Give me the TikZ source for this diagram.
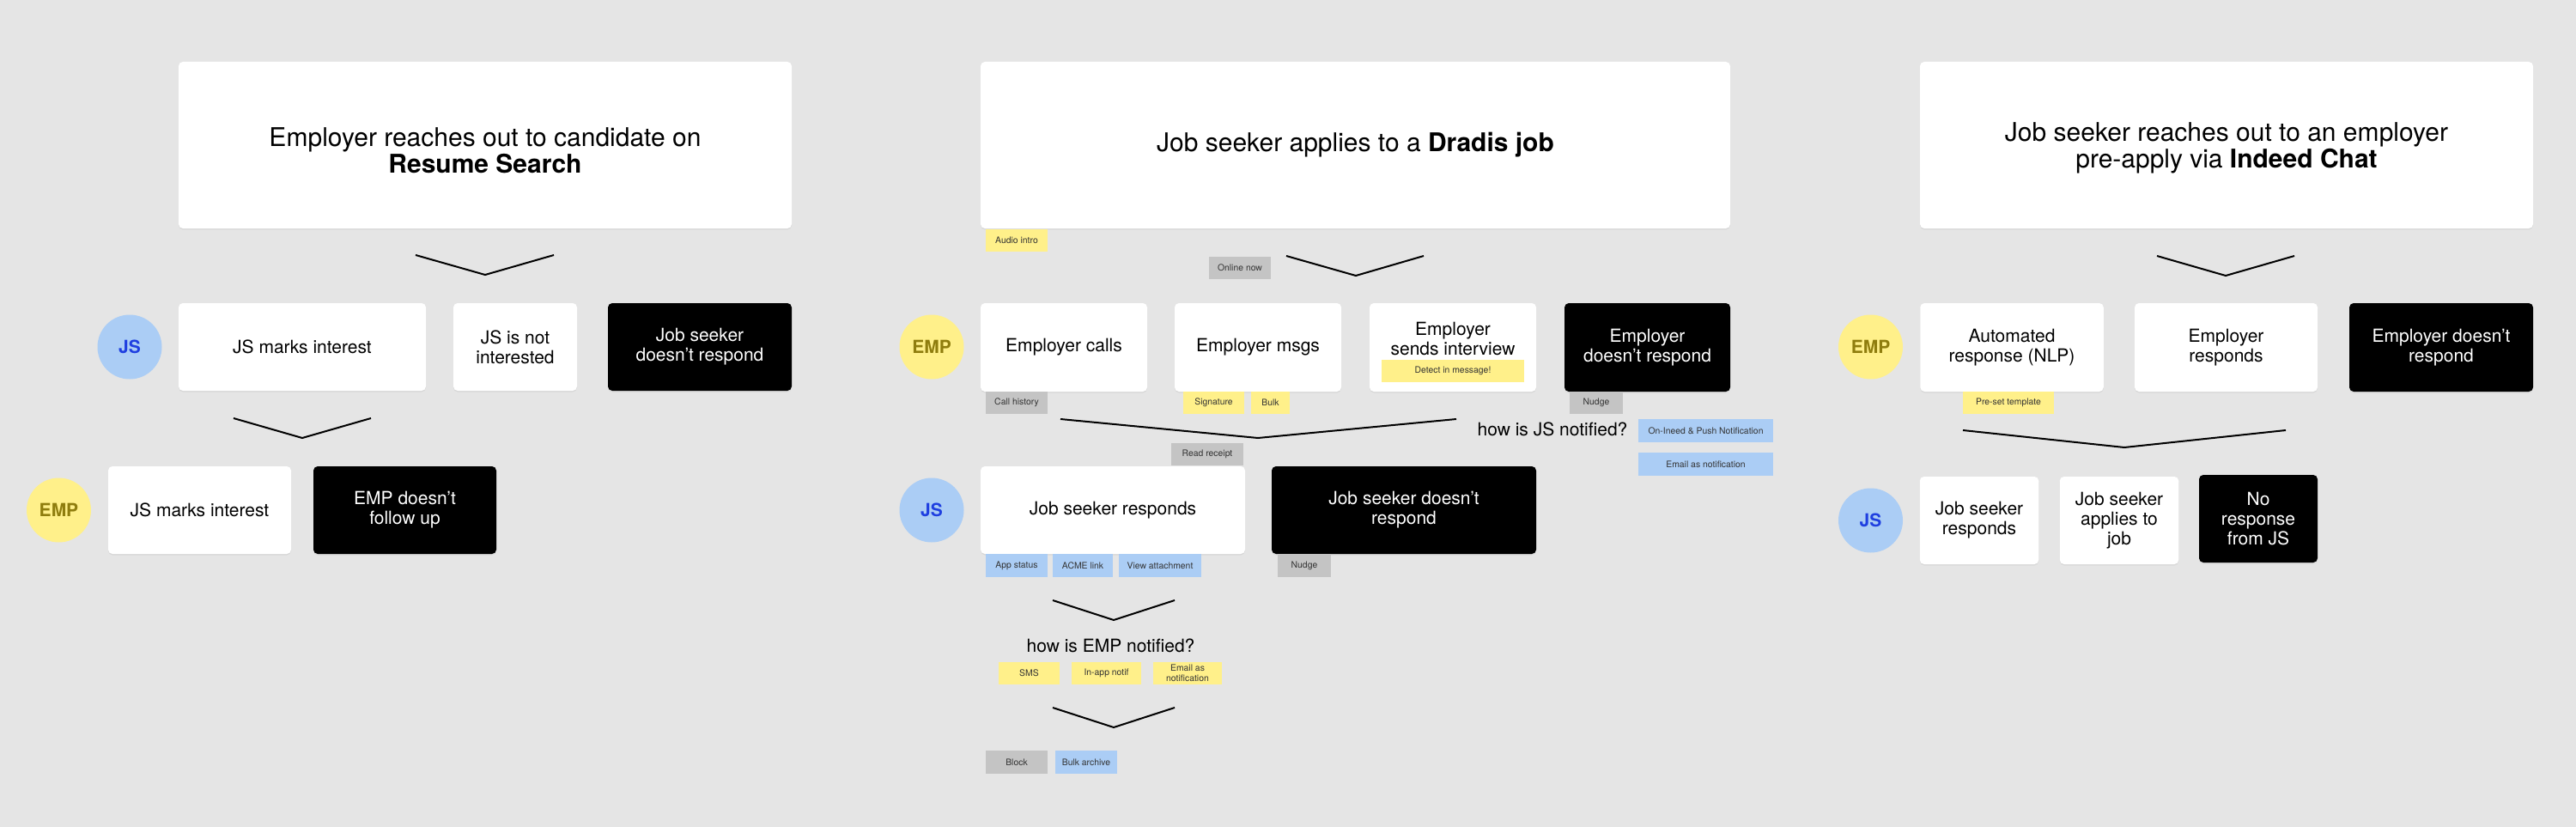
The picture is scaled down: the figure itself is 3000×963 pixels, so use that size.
\documentclass[tikz,border=0pt]{standalone}
\usepackage{fontspec}
\setmainfont{TeX Gyre Heros}
\usetikzlibrary{shadows}
\definecolor{bg}{HTML}{E5E5E5}
\definecolor{tagyellow}{HTML}{FFF08A}
\definecolor{tagblue}{HTML}{ABCDF5}
\definecolor{taggray}{HTML}{C4C4C4}
\definecolor{jsblue}{HTML}{1F3FE0}
\definecolor{empolive}{HTML}{8F7D0E}
\definecolor{tagtext}{HTML}{333333}
\newcommand{\bigtxt}{\fontsize{30}{31}\selectfont}
\newcommand{\boxtxt}{\fontsize{21}{23}\selectfont}
\newcommand{\tagtxt}{\fontsize{10.4}{11.7}\selectfont}

\begin{document}
\begin{tikzpicture}[x=1pt,y=-1pt,
        card/.style={fill=white,rounded corners=5pt,minimum height=102pt,
            inner sep=0pt,align=center,font=\boxtxt,
            drop shadow={shadow xshift=0pt,shadow yshift=-1.5pt,opacity=0.12}},
        blackcard/.style={card,fill=black,text=white},
        title/.style={card,minimum height=194pt,font=\bigtxt},
        who/.style={circle,minimum size=75pt,inner sep=0pt,font=\boxtxt\bfseries},
        tag/.style={minimum height=26.5pt,inner sep=0pt,align=center,
            font=\tagtxt,text=tagtext},
        ytag/.style={tag,fill=tagyellow},
        btag/.style={tag,fill=tagblue},
        gtag/.style={tag,fill=taggray},
        chev/.style={line width=2pt},
        question/.style={font=\boxtxt}]
\fill[bg] (0,0) rectangle (3000,963);

% Resume Search
\node[title,minimum width=714pt,text height=65pt] (title1) at (565,169)
    {Employer reaches out to candidate on\\\textbf{Resume Search}};
\draw[chev] (484,297) -- (565,320) -- (645,297);
\node[who,fill=tagblue,text=jsblue] (js1) at (151,404) {JS};
\node[card,minimum width=288pt] (jsint) at (352,404) {JS marks interest};
\node[card,minimum width=144pt] (jsnot) at (600,404) {JS is not\\interested};
\node[blackcard,minimum width=214pt] (jsnone) at (815,404) {Job seeker\\doesn’t respond};
\draw[chev] (272,487) -- (352,510) -- (432,487);
\node[who,fill=tagyellow,text=empolive] (emp1) at (68.5,594) {EMP};
\node[card,minimum width=213pt] (empint) at (232.5,594) {JS marks interest};
\node[blackcard,minimum width=213pt] (empnone) at (471.5,594) {EMP doesn’t\\follow up};

% Dradis job
\node[title,minimum width=873pt] (title2) at (1578.5,169)
    {Job seeker applies to a \textbf{Dradis job}};
\node[ytag,minimum width=72pt] (audio) at (1184,280) {Audio intro};
\node[gtag,minimum width=72pt] (online) at (1444,312) {Online now};
\draw[chev] (1498,298) -- (1579,321) -- (1658,298);
\node[who,fill=tagyellow,text=empolive] (emp2) at (1085,404) {EMP};
\node[card,minimum width=194pt,minimum height=103pt] (calls) at (1239,404.5) {Employer calls};
\node[card,minimum width=194pt,minimum height=103pt] (msgs) at (1465,404.5) {Employer msgs};
\node[card,minimum width=194pt,minimum height=103pt] (invite) at (1692,404.5) {};
\node[font=\boxtxt,align=center] (invitetxt) at (1692,394) {Employer\\sends interview};
\node[ytag,minimum width=166pt] (detect) at (1692,432) {Detect in message!};
\node[blackcard,minimum width=193pt,minimum height=103pt] (empsilent) at (1918.5,404.5)
    {Employer\\doesn’t respond};
\node[gtag,minimum width=72pt] (callhist) at (1184,469) {Call history};
\node[ytag,minimum width=71pt] (sig) at (1413.5,469) {Signature};
\node[ytag,minimum width=45pt] (bulk) at (1479.5,469) {Bulk};
\node[gtag,minimum width=62pt] (nudge1) at (1859,469) {Nudge};
\draw[chev] (1235,488) -- (1465,510) -- (1696,488);
\node[question] (jsq) at (1808,500) {how is JS notified?};
\node[btag,minimum width=157pt] (push) at (1986.5,501.5) {On-Ineed \& Push Notification};
\node[btag,minimum width=157pt] (jsmail) at (1986.5,540.5) {Email as notification};
\node[gtag,minimum width=84pt] (receipt) at (1406,529) {Read receipt};
\node[who,fill=tagblue,text=jsblue] (js2) at (1085,594) {JS};
\node[card,minimum width=308pt] (jsreply) at (1296,594) {Job seeker responds};
\node[blackcard,minimum width=308pt] (jssilent) at (1635,594) {Job seeker doesn’t\\respond};
\node[btag,minimum width=72pt] (appstat) at (1184,658.5) {App status};
\node[btag,minimum width=70pt] (acme) at (1261,658.5) {ACME link};
\node[btag,minimum width=96pt] (attach) at (1351,658.5) {View attachment};
\node[gtag,minimum width=62pt] (nudge2) at (1519,658.5) {Nudge};
\draw[chev] (1226,699) -- (1297,722) -- (1368,699);
\node[question] (empq) at (1293.5,752) {how is EMP notified?};
\node[ytag,minimum width=71pt] (sms) at (1198.5,784) {SMS};
\node[ytag,minimum width=81pt] (inapp) at (1288.5,784) {In-app notif};
\node[ytag,minimum width=80pt] (empmail) at (1383,784) {Email as\\notification};
\draw[chev] (1226,824) -- (1297,847) -- (1368,824);
\node[gtag,minimum width=72pt] (block) at (1184,887.5) {Block};
\node[btag,minimum width=72pt] (archive) at (1265,887.5) {Bulk archive};

% Indeed Chat
\node[title,minimum width=714pt,text height=59pt] (title3) at (2593,169)
    {Job seeker reaches out to an employer\\pre-apply via \textbf{Indeed Chat}};
\draw[chev] (2512,298) -- (2592,321) -- (2672,298);
\node[who,fill=tagyellow,text=empolive] (emp3) at (2178.5,404) {EMP};
\node[card,minimum width=213.5pt,minimum height=103pt] (auto) at (2343,404.5)
    {Automated\\response (NLP)};
\node[card,minimum width=213pt,minimum height=103pt] (empreply) at (2592.5,404.5)
    {Employer\\responds};
\node[blackcard,minimum width=214pt,minimum height=103pt] (empquiet) at (2843,404.5)
    {Employer doesn’t\\respond};
\node[ytag,minimum width=106pt] (preset) at (2339,469) {Pre-set template};
\draw[chev] (2286,501) -- (2474,521) -- (2662,501);
\node[who,fill=tagblue,text=jsblue] (js3) at (2178.5,606) {JS};
\node[card,minimum width=138.5pt] (jsanswer) at (2305,606) {Job seeker\\responds};
\node[card,minimum width=138.5pt] (jsapply) at (2468,606) {Job seeker\\applies to\\job};
\node[blackcard,minimum width=138pt] (jsquiet) at (2630,604) {No\\response\\from JS};
\end{tikzpicture}
\end{document}
